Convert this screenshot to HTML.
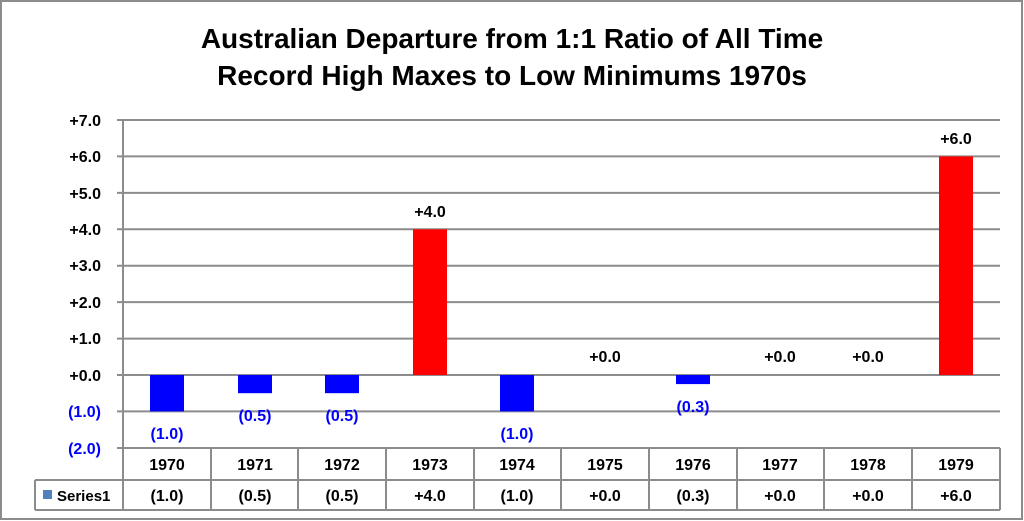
<!DOCTYPE html>
<html><head><style>
body{margin:0;background:#fff;}
svg{display:block;font-family:"Liberation Sans",Calibri,sans-serif;}
</style></head><body>
<svg width="1024" height="521" viewBox="0 0 1024 521">
<rect x="1" y="1" width="1021" height="518" fill="#fff" stroke="#8c8c8c" stroke-width="2"/>
<text x="512" y="48" font-size="28" font-weight="bold" text-anchor="middle">Australian Departure from 1:1 Ratio of All Time</text>
<text x="512" y="85" font-size="28" font-weight="bold" text-anchor="middle">Record High Maxes to Low Minimums 1970s</text>
<g stroke="#8c8c8c" stroke-width="2">
<line x1="117" y1="120" x2="1000" y2="120"/>
<line x1="117" y1="156.4" x2="1000" y2="156.4"/>
<line x1="117" y1="192.9" x2="1000" y2="192.9"/>
<line x1="117" y1="229.3" x2="1000" y2="229.3"/>
<line x1="117" y1="265.7" x2="1000" y2="265.7"/>
<line x1="117" y1="302.1" x2="1000" y2="302.1"/>
<line x1="117" y1="338.6" x2="1000" y2="338.6"/>
<line x1="117" y1="375" x2="1000" y2="375"/>
<line x1="117" y1="411.4" x2="1000" y2="411.4"/>
<line x1="117" y1="448" x2="123" y2="448"/>
<line x1="123" y1="120" x2="123" y2="510"/>
</g>
<g font-size="16" font-weight="bold" text-anchor="end">
<text x="101" y="126">+7.0</text><text x="101" y="162">+6.0</text><text x="101" y="199">+5.0</text>
<text x="101" y="235">+4.0</text><text x="101" y="271">+3.0</text><text x="101" y="308">+2.0</text>
<text x="101" y="344">+1.0</text><text x="101" y="381">+0.0</text>
<text x="101" y="417" fill="#0000ff">(1.0)</text><text x="101" y="454" fill="#0000ff">(2.0)</text>
</g>
<g>
<rect x="150" y="375" width="34" height="36.4" fill="#0000ff"/>
<rect x="238" y="375" width="34" height="18.2" fill="#0000ff"/>
<rect x="325" y="375" width="34" height="18.2" fill="#0000ff"/>
<rect x="413" y="229.3" width="34" height="145.7" fill="#ff0000"/>
<rect x="500" y="375" width="34" height="36.4" fill="#0000ff"/>
<rect x="676" y="375" width="34" height="9.1" fill="#0000ff"/>
<rect x="939" y="156.4" width="34" height="218.6" fill="#ff0000"/>
</g>
<g font-size="16" font-weight="bold" text-anchor="middle">
<text x="167" y="439" fill="#0000ff">(1.0)</text>
<text x="255" y="421" fill="#0000ff">(0.5)</text>
<text x="342" y="421" fill="#0000ff">(0.5)</text>
<text x="430" y="217">+4.0</text>
<text x="517" y="439" fill="#0000ff">(1.0)</text>
<text x="605" y="362">+0.0</text>
<text x="693" y="412" fill="#0000ff">(0.3)</text>
<text x="780" y="362">+0.0</text>
<text x="868" y="362">+0.0</text>
<text x="956" y="144">+6.0</text>
</g>
<g stroke="#8c8c8c" stroke-width="2" fill="none">
<line x1="123" y1="448" x2="1000" y2="448"/>
<line x1="35" y1="480" x2="1000" y2="480"/>
<line x1="35" y1="510" x2="1000" y2="510"/>
<line x1="35" y1="480" x2="35" y2="510"/>
<line x1="211" y1="448" x2="211" y2="510"/><line x1="298" y1="448" x2="298" y2="510"/>
<line x1="386" y1="448" x2="386" y2="510"/><line x1="474" y1="448" x2="474" y2="510"/>
<line x1="561" y1="448" x2="561" y2="510"/><line x1="649" y1="448" x2="649" y2="510"/>
<line x1="737" y1="448" x2="737" y2="510"/><line x1="824" y1="448" x2="824" y2="510"/>
<line x1="912" y1="448" x2="912" y2="510"/><line x1="1000" y1="448" x2="1000" y2="510"/>
</g>
<rect x="43" y="490" width="9" height="9" fill="#4f81bd"/>
<text x="57" y="501" font-size="15" font-weight="bold">Series1</text>
<g font-size="16" font-weight="bold" text-anchor="middle">
<text x="167" y="470">1970</text><text x="255" y="470">1971</text><text x="342" y="470">1972</text>
<text x="430" y="470">1973</text><text x="517" y="470">1974</text><text x="605" y="470">1975</text>
<text x="693" y="470">1976</text><text x="780" y="470">1977</text><text x="868" y="470">1978</text>
<text x="956" y="470">1979</text>
<text x="167" y="501">(1.0)</text><text x="255" y="501">(0.5)</text><text x="342" y="501">(0.5)</text>
<text x="430" y="501">+4.0</text><text x="517" y="501">(1.0)</text><text x="605" y="501">+0.0</text>
<text x="693" y="501">(0.3)</text><text x="780" y="501">+0.0</text><text x="868" y="501">+0.0</text>
<text x="956" y="501">+6.0</text>
</g>
</svg>
</body></html>
